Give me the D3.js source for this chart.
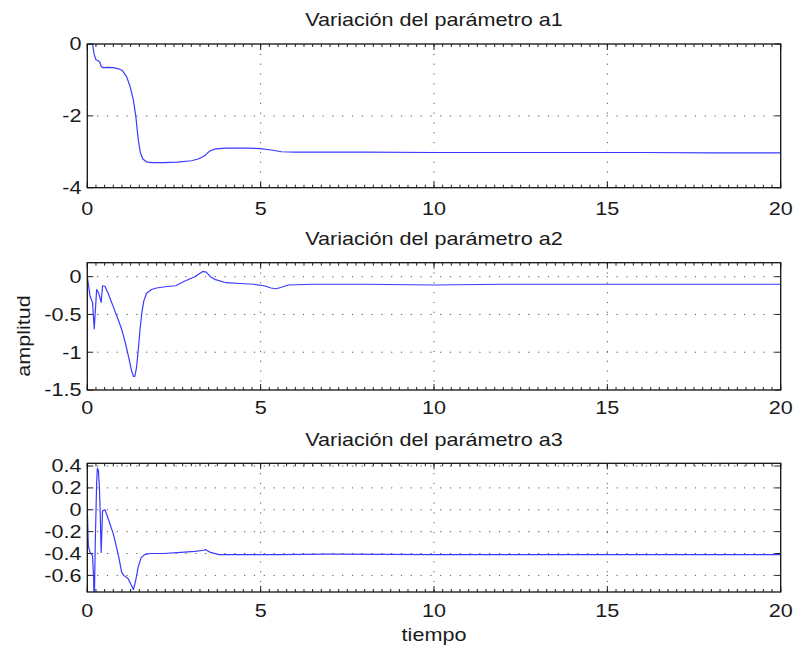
<!DOCTYPE html>
<html><head><meta charset="utf-8">
<script src="https://cdn.jsdelivr.net/npm/d3@7"></script>
<style>body{margin:0;background:#fff}</style>
</head><body><svg id="c" width="797" height="649"></svg>
<script>
// ---- data ----
const titles = ["Variación del parámetro a1", "Variación del parámetro a2", "Variación del parámetro a3"];
const xLabel = "tiempo";
const yLabel = "amplitud";
const xDomain = [0, 20];
const xTicks = [0, 5, 10, 15, 20];

const timeA1 = [0, 0.15, 0.2, 0.25, 0.3, 0.36, 0.4, 0.45, 0.6, 0.75, 0.9, 1.0, 1.13, 1.23, 1.33, 1.4, 1.47, 1.53, 1.6, 1.71, 1.85, 2.2, 2.6, 3.0, 3.2, 3.33, 3.4, 3.47, 3.55, 3.7, 4.0, 4.6, 5.0, 5.3, 5.6, 6, 8, 10, 12, 14, 16, 18, 20];
const valA1  = [0, 0, -0.3, -0.44, -0.46, -0.5, -0.62, -0.66, -0.65, -0.66, -0.69, -0.73, -0.9, -1.17, -1.56, -2.02, -2.67, -3.02, -3.2, -3.28, -3.3, -3.3, -3.29, -3.25, -3.2, -3.14, -3.1, -3.03, -2.97, -2.92, -2.9, -2.9, -2.91, -2.95, -3.0, -3.01, -3.01, -3.02, -3.02, -3.02, -3.02, -3.03, -3.03];

const timeA2 = [0, 0.08, 0.15, 0.2, 0.27, 0.33, 0.4, 0.44, 0.51, 0.6, 0.75, 0.9, 1.0, 1.1, 1.2, 1.28, 1.33, 1.37, 1.42, 1.47, 1.52, 1.57, 1.63, 1.71, 1.85, 2.0, 2.3, 2.55, 2.8, 3.1, 3.33, 3.43, 3.55, 3.7, 4.0, 4.4, 4.8, 5.1, 5.3, 5.45, 5.6, 5.8, 6.5, 8, 10, 12, 14, 16, 18, 19, 20];
const valA2  = [0, -0.26, -0.34, -0.69, -0.17, -0.22, -0.34, -0.12, -0.13, -0.22, -0.4, -0.58, -0.71, -0.88, -1.08, -1.25, -1.32, -1.32, -1.2, -0.97, -0.7, -0.49, -0.32, -0.22, -0.17, -0.15, -0.13, -0.12, -0.06, 0.0, 0.07, 0.06, 0.0, -0.04, -0.08, -0.09, -0.1, -0.12, -0.15, -0.16, -0.14, -0.11, -0.1, -0.1, -0.11, -0.1, -0.1, -0.1, -0.1, -0.1, -0.1];

const timeA3 = [0, 0.03, 0.08, 0.15, 0.18, 0.2, 0.23, 0.27, 0.29, 0.32, 0.35, 0.37, 0.4, 0.44, 0.51, 0.6, 0.75, 0.9, 0.99, 1.05, 1.18, 1.33, 1.4, 1.47, 1.55, 1.65, 1.8, 2.2, 2.7, 3.1, 3.35, 3.42, 3.55, 3.8, 4.5, 5.5, 7, 10, 13, 16, 20];
const valA3  = [0, -0.33, -0.39, -0.42, -0.6, -0.9, -0.3, 0.25, 0.38, 0.36, 0.2, 0.0, -0.39, -0.01, 0.0, -0.08, -0.22, -0.42, -0.57, -0.6, -0.63, -0.73, -0.64, -0.52, -0.44, -0.41, -0.40, -0.40, -0.39, -0.38, -0.37, -0.365, -0.39, -0.41, -0.41, -0.41, -0.405, -0.41, -0.41, -0.41, -0.41];

const yDomains = [[-4, 0], [-1.5, 0.185], [-0.752, 0.425]];
const yTickSets = [[0, -2, -4], [0, -0.5, -1, -1.5], [0.4, 0.2, 0, -0.2, -0.4, -0.6]];

// ---- drawing ----
const series = [[timeA1, valA1], [timeA2, valA2], [timeA3, valA3]];
const svg = d3.select("#c");
const L = 87.3, R = 780.7;
const boxes = [{top: 44, bottom: 187.7, title: 26, xl: 215},
               {top: 262.7, bottom: 390, title: 245, xl: 414},
               {top: 463.3, bottom: 592, title: 446, xl: 617}];
const FS = 18, SX = 1.2;
const fmt = d3.format("~g");
const tickText = v => fmt(v).replace("\u2212", "-");

function label(x, y, str, anchor, rot) {
  svg.append("text")
    .attr("transform", `translate(${x},${y})` + (rot ? " rotate(-90)" : "") + ` scale(${SX},1)`)
    .attr("text-anchor", anchor)
    .attr("font-family", "'Liberation Sans', Arial, Helvetica, sans-serif")
    .attr("font-size", FS)
    .attr("fill", "#1a1a1a")
    .text(str);
}

const x = d3.scaleLinear().domain(xDomain).range([L, R]);
const minorTicks = d3.range(0, 20.001, 0.25);

boxes.forEach((b, i) => {
  const y = d3.scaleLinear().domain(yDomains[i]).range([b.bottom, b.top]);
  const g = svg.append("g");
  // grid
  xTicks.filter(t => t > xDomain[0] && t < xDomain[1]).forEach(t => {
    g.append("line").attr("x1", x(t)).attr("x2", x(t)).attr("y1", b.top).attr("y2", b.bottom)
      .attr("stroke", "#555").attr("stroke-width", 1).attr("stroke-dasharray", "1.2,8.6");
  });
  yTickSets[i].filter(t => y(t) > b.top + 1 && y(t) < b.bottom - 1).forEach(t => {
    g.append("line").attr("x1", L).attr("x2", R).attr("y1", y(t)).attr("y2", y(t))
      .attr("stroke", "#555").attr("stroke-width", 1).attr("stroke-dasharray", "1.2,8.6");
  });
  // minor ticks
  minorTicks.forEach(t => {
    g.append("line").attr("x1", x(t)).attr("x2", x(t)).attr("y1", b.bottom).attr("y2", b.bottom - 3).attr("stroke", "#222");
    g.append("line").attr("x1", x(t)).attr("x2", x(t)).attr("y1", b.top).attr("y2", b.top + 3).attr("stroke", "#222");
  });
  // major ticks
  xTicks.forEach(t => {
    g.append("line").attr("x1", x(t)).attr("x2", x(t)).attr("y1", b.bottom).attr("y2", b.bottom - 6).attr("stroke", "#222");
    g.append("line").attr("x1", x(t)).attr("x2", x(t)).attr("y1", b.top).attr("y2", b.top + 6).attr("stroke", "#222");
  });
  yTickSets[i].forEach(t => {
    g.append("line").attr("x1", L).attr("x2", L + 6).attr("y1", y(t)).attr("y2", y(t)).attr("stroke", "#222");
    g.append("line").attr("x1", R).attr("x2", R - 6).attr("y1", y(t)).attr("y2", y(t)).attr("stroke", "#222");
  });
  // clip + line
  const cid = "clip" + i;
  svg.append("clipPath").attr("id", cid).append("rect")
    .attr("x", L).attr("y", b.top).attr("width", R - L).attr("height", b.bottom - b.top);
  const [ts, vs] = series[i];
  const pts = ts.map((t, k) => [t, vs[k]]);
  g.append("path").datum(pts)
    .attr("clip-path", `url(#${cid})`)
    .attr("d", d3.line().x(d => x(d[0])).y(d => y(d[1])))
    .attr("fill", "none").attr("stroke", "#3a3aff").attr("stroke-width", 1.2)
    .attr("stroke-linejoin", "round");
  // frame
  g.append("rect").attr("x", L).attr("y", b.top).attr("width", R - L).attr("height", b.bottom - b.top)
    .attr("fill", "none").attr("stroke", "#111").attr("stroke-width", 1.3);
  // labels
  xTicks.forEach(t => label(x(t), b.xl, tickText(t), "middle"));
  yTickSets[i].forEach(t => label(81.5, y(t) + 6.4, tickText(t), "end"));
  label((L + R) / 2, b.title, titles[i], "middle");
});
label((L + R) / 2, 641, xLabel, "middle");
label(30, 336, yLabel, "middle", true);
</script>
</body></html>
